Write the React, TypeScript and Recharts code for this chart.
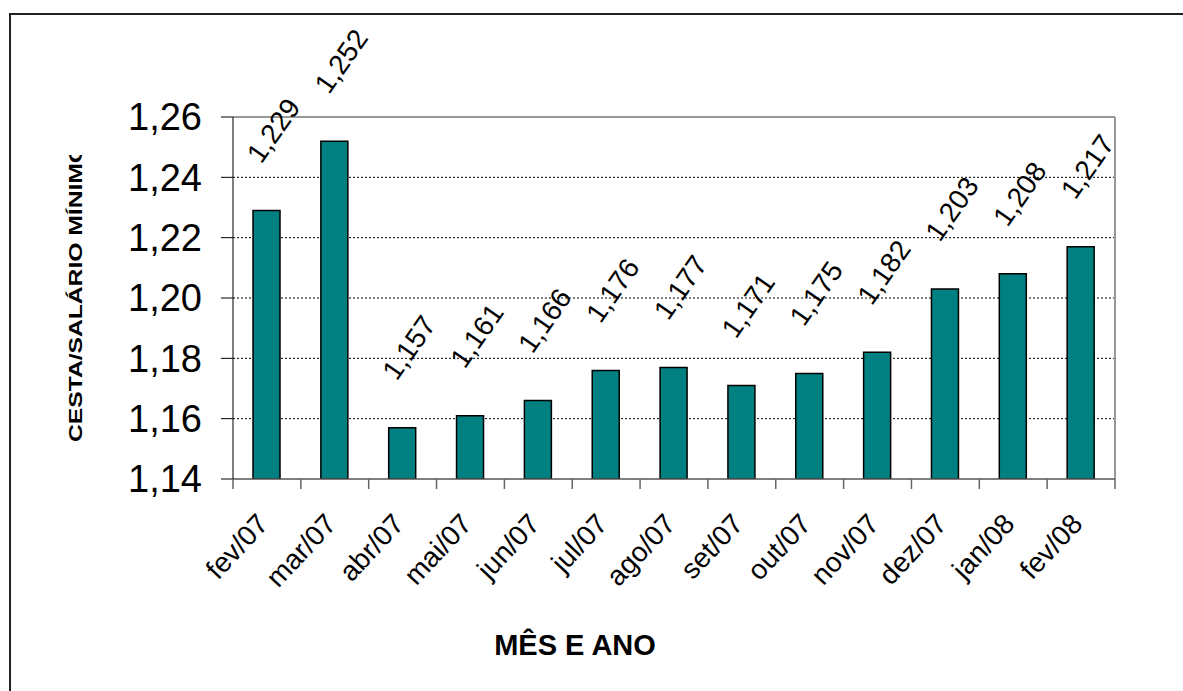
import React from 'react';
import { BarChart, Bar, XAxis, YAxis, CartesianGrid, LabelList, ReferenceLine } from 'recharts';

const categories = ['fev/07', 'mar/07', 'abr/07', 'mai/07', 'jun/07', 'jul/07', 'ago/07', 'set/07', 'out/07', 'nov/07', 'dez/07', 'jan/08', 'fev/08'];
const values = [1.229, 1.252, 1.157, 1.161, 1.166, 1.176, 1.177, 1.171, 1.175, 1.182, 1.203, 1.208, 1.217];
const yTicks = [1.14, 1.16, 1.18, 1.2, 1.22, 1.24, 1.26];
const gridValues = [1.16, 1.18, 1.2, 1.22, 1.24];
const yTitle = 'CESTA/SALÁRIO MÍNIMO';
const xTitle = 'MÊS E ANO';

const data = categories.map((c, i) => ({ mes: c, valor: values[i], pos: i + 0.5 }));
const xTicks = categories.flatMap((_, i) => [i, i + 0.5]).concat([categories.length]);

const fmt2 = (v: number) => v.toFixed(2).replace('.', ',');
const fmt3 = (v: number) => v.toFixed(3).replace('.', ',');

const FONT = '"Liberation Sans", Arial, sans-serif';

const XTick = (props: any) => {
  const { x, y, payload } = props;
  const v = payload.value as number;
  if (Number.isInteger(v)) {
    return <line x1={x} y1={y - 10} x2={x} y2={y} stroke="#666" strokeWidth={1.5} />;
  }
  const label = categories[Math.floor(v)];
  const tx = x + 3;
  const ty = y + 36;
  return (
    <text x={tx} y={ty} transform={`rotate(-47 ${tx} ${ty})`} textAnchor="end" fontSize={28} fill="#000" fontFamily={FONT}>
      {label}
    </text>
  );
};

const DataLabel = (props: any) => {
  const { x, y, width, value } = props;
  const cx = x + width / 2 + 7;
  const cy = y - 80;
  return (
    <text x={cx} y={cy} transform={`rotate(-55 ${cx} ${cy})`} textAnchor="middle" dominantBaseline="central" fontSize={28} fill="#000" fontFamily={FONT}>
      {fmt3(value)}
    </text>
  );
};

const YTitle = (props: any) => {
  const vb = props.viewBox;
  const cx = vb.x + 76;
  const cy = vb.y + vb.height / 2 - 5;
  return (
    <g>
      <defs>
        <clipPath id="ytitle-clip">
          <rect x={0} y={155} width={200} height={400} />
        </clipPath>
      </defs>
      <g clipPath="url(#ytitle-clip)">
        <text x={cx} y={cy} transform={`rotate(-90 ${cx} ${cy})`} textAnchor="middle" dominantBaseline="central" fontSize={18} fontWeight="bold" fill="#000" fontFamily={FONT} textLength={298} lengthAdjust="spacingAndGlyphs">
          {yTitle}
        </text>
      </g>
    </g>
  );
};

const XTitle = (props: any) => {
  const vb = props.viewBox;
  const cx = vb.x + 342;
  const cy = vb.y + 166;
  return (
    <text x={cx} y={cy} textAnchor="middle" dominantBaseline="central" fontSize={29} fontWeight="bold" fill="#000" fontFamily={FONT}>
      {xTitle}
    </text>
  );
};

export default function App() {
  return (
    <div style={{ position: 'absolute', left: 0, top: 0, width: 1183, height: 691, overflow: 'hidden', background: '#fff', fontFamily: FONT }}>
      <div style={{ position: 'absolute', left: 9, top: 13, width: 1200, height: 720, border: '2px solid #222', boxSizing: 'border-box' }} />
      <div style={{ position: 'absolute', left: 0, top: 0 }}>
        <BarChart width={1183} height={691} data={data} margin={{ top: 117, right: 68, left: 0, bottom: 82 }}>
          <CartesianGrid vertical={false} horizontalValues={gridValues} stroke="#000" strokeDasharray="2 2" />
          <XAxis xAxisId="c" dataKey="mes" hide height={0} />
          <XAxis
            xAxisId="n"
            dataKey="pos"
            type="number"
            domain={[0, categories.length]}
            allowDataOverflow
            ticks={xTicks}
            interval={0}
            tickLine={false}
            tickSize={10}
            tickMargin={0}
            height={130}
            axisLine={{ stroke: '#555', strokeWidth: 1.5 }}
            tick={<XTick />}
            label={<XTitle />}
          />
          <YAxis
            width={233}
            domain={[1.14, 1.26]}
            ticks={yTicks}
            interval={0}
            allowDataOverflow
            tickFormatter={fmt2}
            tickSize={12}
            tickMargin={19}
            tick={{ fontSize: 38, fill: '#000', fontFamily: FONT }}
            tickLine={{ stroke: '#000' }}
            axisLine={{ stroke: '#000' }}
            label={<YTitle />}
          />
          <ReferenceLine y={1.26} stroke="#999" strokeWidth={2} />
          <ReferenceLine x={categories.length} xAxisId="n" stroke="#999" strokeWidth={2} />
          <Bar dataKey="valor" xAxisId="c" fill="#008080" stroke="#000" strokeWidth={1.5} barSize={27} isAnimationActive={false}>
            <LabelList dataKey="valor" content={<DataLabel />} />
          </Bar>
        </BarChart>
      </div>
    </div>
  );
}
